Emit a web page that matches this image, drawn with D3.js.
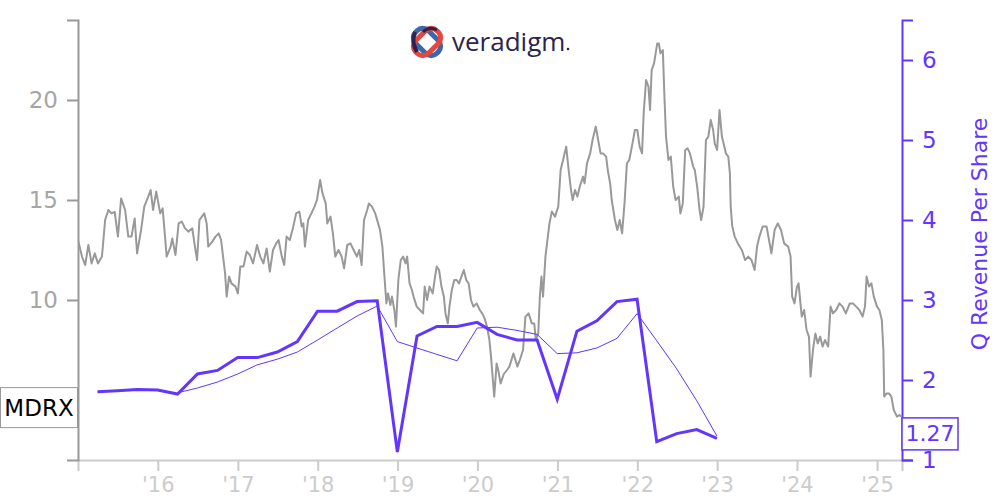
<!DOCTYPE html>
<html>
<head>
<meta charset="utf-8">
<script src="https://cdn.jsdelivr.net/npm/d3@7"></script>
<style>
  html, body { margin: 0; padding: 0; background: #fff; }
  svg { display: block; font-family: "DejaVu Sans", sans-serif; }
</style>
</head>
<body>
<svg id="chart" width="1000" height="500"></svg>
<script>
// ---------------- DATA ----------------
const ticker = "MDRX";
const rightAxisTitle = "Q Revenue Per Share";
const leftTicks = [5, 10, 15, 20];
const rightTicks = [1, 2, 3, 4, 5, 6];
const xTickYears = [2016, 2017, 2018, 2019, 2020, 2021, 2022, 2023, 2024, 2025];
const dateStart = 2015.0;
const dateEnd = 2025.313;

// Quarter-end dates for revenue per share
const quarterDates = [
  "2015-03-31","2015-06-30","2015-09-30","2015-12-31",
  "2016-03-31","2016-06-30","2016-09-30","2016-12-31",
  "2017-03-31","2017-06-30","2017-09-30","2017-12-31",
  "2018-03-31","2018-06-30","2018-09-30","2018-12-31",
  "2019-03-31","2019-06-30","2019-09-30","2019-12-31",
  "2020-03-31","2020-06-30","2020-09-30","2020-12-31",
  "2021-03-31","2021-06-30","2021-09-30","2021-12-31",
  "2022-03-31","2022-06-30","2022-09-30","2022-12-31"
];
// Quarterly revenue per share (thick line)
const revenuePerShare = [
  1.854, 1.866, 1.88, 1.875,
  1.825, 2.075, 2.12, 2.28,
  2.28, 2.35, 2.48, 2.86,
  2.86, 2.98, 2.99, 1.10,
  2.55, 2.67, 2.67, 2.72,
  2.57, 2.50, 2.50, 1.76,
  2.61, 2.74, 2.98, 3.01,
  1.23, 1.33, 1.38, 1.27
];
// Trailing average line (thin), starting 2016-03-31
const trendDates = quarterDates.slice(4);
const revenueTrend = [
  1.84, 1.90, 1.975, 2.075,
  2.19, 2.26, 2.35, 2.50,
  2.65, 2.80, 2.925, 2.48,
  2.40, 2.32, 2.24, 2.65,
  2.66, 2.62, 2.57, 2.33,
  2.34, 2.40, 2.52, 2.83,
  2.49, 2.14, 1.74, 1.30
];
const lastRevenueLabel = "1.27";

// Share price (decimal year, price)
const priceDates = [
  2015.00,2015.02,2015.05,2015.09,2015.13,2015.17,2015.21,2015.25,2015.30,2015.34,2015.38,2015.42,2015.46,2015.50,2015.54,2015.59,2015.63,2015.67,2015.71,2015.74,2015.79,2015.83,2015.88,2015.91,2015.94,2015.98,
  2016.03,2016.06,2016.09,2016.11,2016.16,2016.18,2016.22,2016.26,2016.30,2016.34,2016.38,2016.43,2016.47,2016.49,2016.52,2016.55,2016.58,2016.61,2016.63,2016.68,2016.72,2016.76,2016.79,2016.82,2016.84,2016.86,2016.89,2016.92,2016.97,2017.00,
  2017.03,2017.07,2017.11,2017.15,2017.19,2017.24,2017.28,2017.32,2017.36,2017.40,2017.44,2017.48,2017.51,2017.55,2017.58,2017.61,2017.65,2017.69,2017.73,2017.77,2017.80,2017.82,2017.84,2017.88,2017.92,2017.96,2017.99,
  2018.03,2018.06,2018.10,2018.12,2018.16,2018.19,2018.22,2018.26,2018.30,2018.33,2018.37,2018.41,2018.45,2018.49,2018.52,2018.55,2018.58,2018.62,2018.64,2018.68,2018.72,2018.75,2018.78,2018.81,2018.83,2018.86,2018.88,2018.91,2018.93,2018.96,2018.98,2019.01,
  2019.04,2019.07,2019.10,2019.12,2019.15,2019.18,2019.20,2019.24,2019.28,2019.32,2019.34,2019.37,2019.40,2019.44,2019.47,2019.49,2019.52,2019.55,2019.58,2019.60,2019.63,2019.65,2019.68,2019.71,2019.74,2019.77,2019.80,2019.83,2019.86,2019.89,2019.92,2019.95,2019.99,
  2020.03,2020.06,2020.09,2020.12,2020.15,2020.17,2020.19,2020.21,2020.24,2020.26,2020.29,2020.33,2020.37,2020.40,2020.45,2020.50,2020.53,2020.57,2020.60,2020.64,2020.68,2020.71,2020.73,2020.76,2020.78,2020.80,2020.82,2020.85,2020.87,2020.90,2020.93,2020.97,
  2021.01,2021.04,2021.07,2021.11,2021.14,2021.17,2021.19,2021.22,2021.25,2021.28,2021.32,2021.34,2021.37,2021.41,2021.44,2021.48,2021.51,2021.54,2021.57,2021.61,2021.63,2021.66,2021.68,2021.72,2021.75,2021.78,2021.81,2021.84,2021.87,2021.90,2021.94,2021.97,2022.00,
  2022.03,2022.06,2022.08,2022.11,2022.14,2022.16,2022.18,2022.21,2022.25,2022.27,2022.29,2022.32,2022.34,2022.36,2022.39,2022.42,2022.45,2022.48,2022.52,2022.54,2022.57,2022.60,2022.63,2022.66,2022.70,2022.72,2022.75,2022.78,2022.80,2022.83,2022.86,2022.89,2022.92,2022.95,2022.97,2023.00,2023.03,
  2023.06,2023.09,2023.11,2023.14,2023.16,2023.17,2023.19,2023.22,2023.26,2023.31,2023.35,2023.39,2023.43,2023.47,2023.50,2023.53,2023.57,2023.62,2023.65,2023.68,2023.72,2023.76,2023.80,2023.84,2023.89,2023.92,2023.94,2023.97,2024.00,2024.02,
  2024.06,2024.09,2024.12,2024.15,2024.17,2024.20,2024.23,2024.26,2024.29,2024.32,2024.35,2024.39,2024.42,2024.45,2024.49,2024.53,2024.57,2024.61,2024.66,2024.70,2024.74,2024.78,2024.82,2024.85,2024.87,2024.90,2024.93,2024.96,2025.00,2025.03,
  2025.06,2025.08,2025.09,2025.12,2025.15,2025.18,2025.21,2025.25,2025.28,2025.30
];
const priceValues = [
  13.0,12.67,12.17,11.75,12.75,11.83,12.33,11.83,12.17,14.0,14.5,14.33,14.4,13.17,15.08,14.5,13.17,13.17,14.08,12.33,13.5,14.67,15.17,15.5,14.5,15.42,
  14.33,14.58,13.17,12.17,12.67,13.08,12.25,13.83,13.92,13.58,13.42,13.58,12.5,12.0,14.0,14.17,14.33,13.83,12.67,12.92,13.17,13.33,13.0,12.0,11.33,10.17,11.17,10.83,10.67,10.33,
  11.67,11.67,12.42,12.25,11.83,12.75,12.17,11.83,12.58,11.42,12.5,12.83,13.0,12.17,11.75,13.17,13.0,13.6,14.33,14.42,13.67,13.83,12.67,14.0,14.33,14.67,15.0,
  16.0,15.33,14.83,13.83,14.17,13.33,12.17,12.5,12.17,11.58,12.75,12.83,12.5,12.17,12.5,11.75,14.0,14.5,14.83,14.67,14.33,13.92,13.5,12.67,11.5,9.83,10.33,9.75,10.17,9.5,8.67,11.0,
  12.0,12.17,11.83,12.17,10.83,10.5,10.17,9.67,9.5,9.33,10.67,10.0,10.67,10.33,11.17,11.67,11.5,10.67,10.17,9.33,8.83,9.67,10.5,11.0,11.0,10.83,11.17,11.5,11.0,10.83,10.0,9.67,9.83,
  9.5,9.33,9.08,8.67,8.0,7.17,6.17,5.17,6.83,6.5,5.83,6.3,6.5,6.67,7.33,6.67,7.0,7.5,9.17,9.33,8.83,8.83,8.0,8.33,10.17,11.17,10.17,12.17,12.83,13.83,14.42,14.17,
  14.67,16.5,17.0,17.67,16.5,15.5,15.0,15.5,15.17,15.67,16.17,15.83,16.83,17.33,18.0,18.67,18.0,17.33,17.33,17.17,16.5,15.83,15.0,14.0,13.5,14.0,13.33,14.83,16.83,17.0,17.83,18.5,18.5,
  17.67,17.33,19.33,21.0,20.67,19.5,21.5,21.83,22.83,22.83,22.33,22.5,20.17,18.17,17.0,17.17,15.67,15.0,15.17,14.33,14.83,17.5,17.58,17.33,16.67,16.5,15.67,14.5,14.0,14.67,18.0,18.17,19.0,18.5,17.83,17.5,19.5,
  18.17,17.67,17.33,17.17,16.33,14.67,13.67,13.17,12.83,12.5,12.0,12.17,12.0,11.5,12.67,13.17,13.67,13.67,13.0,12.33,13.5,13.83,13.5,12.83,12.67,12.17,10.17,9.83,10.67,10.83,
  9.17,9.5,8.5,8.17,6.17,7.5,8.33,7.83,8.17,7.67,8.0,7.67,9.67,9.33,9.5,9.83,9.67,9.33,9.83,9.83,9.67,9.5,9.17,9.67,11.17,10.67,10.83,10.17,9.67,9.5,
  9.0,7.5,5.17,5.33,5.33,5.17,4.5,4.17,4.25,4.17
];

// ---------------- HELPERS ----------------
function decToDate(d) {
  const y = Math.floor(d);
  const s = Date.UTC(y, 0, 1), e = Date.UTC(y + 1, 0, 1);
  return new Date(s + (d - y) * (e - s));
}
const parse = d3.utcParse("%Y-%m-%d");

const price = priceDates.map((d, i) => ({ date: decToDate(d), v: priceValues[i] }));
const rev = quarterDates.map((d, i) => ({ date: parse(d), v: revenuePerShare[i] }));
const trend = trendDates.map((d, i) => ({ date: parse(d), v: revenueTrend[i] }));

// ---------------- LAYOUT ----------------
const plot = { left: 78, right: 902, top: 20, bottom: 460 };
const purple = "#6236ff";
const gray = "#999999";

const svg = d3.select("#chart");

const x = d3.scaleUtc()
  .domain([decToDate(dateStart), decToDate(dateEnd)])
  .range([plot.left, plot.right]);
const yL = d3.scaleLinear().domain([2, 24]).range([plot.bottom, plot.top]);
const yR = d3.scaleLinear().domain([1, 6.5]).range([plot.bottom, plot.top]);

// ---------------- LOGO ----------------
const logo = svg.append("g").attr("transform", "translate(427,42)");
logo.append("rect").attr("x", -15).attr("y", -9).attr("width", 30).attr("height", 18).attr("rx", 8)
  .attr("transform", "rotate(45)").attr("fill", "none").attr("stroke", "#3d67a8").attr("stroke-width", 5);
logo.append("rect").attr("x", -15).attr("y", -9).attr("width", 30).attr("height", 18).attr("rx", 8)
  .attr("transform", "rotate(-45)").attr("fill", "none").attr("stroke", "#e4483c").attr("stroke-width", 5);
logo.append("path").attr("d", "M-12,-10 Q-16,0 -10,10").attr("fill", "none").attr("stroke", "#2b2352").attr("stroke-width", 4);
logo.append("path").attr("d", "M10,-12 Q2,-16 -4,-10").attr("fill", "none").attr("stroke", "#2b2352").attr("stroke-width", 3);
svg.append("text").attr("x", 452).attr("y", 51)
  .attr("font-family", "'Open Sans', sans-serif").attr("font-size", 26).attr("font-weight", 500)
  .attr("fill", "#2b2352").text("veradigm");
svg.append("circle").attr("cx", 568).attr("cy", 49).attr("r", 1.3).attr("fill", "#2b2352");

// ---------------- SERIES ----------------
svg.append("defs").append("clipPath").attr("id", "plotclip")
  .append("rect").attr("x", plot.left).attr("y", plot.top)
  .attr("width", plot.right - plot.left).attr("height", plot.bottom - plot.top);

const priceLine = d3.line().x(d => x(d.date)).y(d => yL(d.v));
svg.append("path").datum(price)
  .attr("clip-path", "url(#plotclip)")
  .attr("d", priceLine).attr("fill", "none").attr("stroke", gray)
  .attr("stroke-width", 2).attr("stroke-linejoin", "round");

const revLine = d3.line().x(d => x(d.date)).y(d => yR(d.v));
svg.append("path").datum(trend)
  .attr("d", revLine).attr("fill", "none").attr("stroke", purple).attr("stroke-width", 1);
svg.append("path").datum(rev)
  .attr("d", revLine).attr("fill", "none").attr("stroke", purple)
  .attr("stroke-width", 3).attr("stroke-linejoin", "miter");

// ---------------- AXES ----------------
const gX = svg.append("g").attr("transform", `translate(0,${plot.bottom})`)
  .call(d3.axisBottom(x).tickValues(xTickYears.map(y => decToDate(y)))
    .tickFormat(d3.utcFormat("'%y")).tickSize(11).tickSizeOuter(11).tickPadding(6));
gX.selectAll("path, line").attr("stroke", "#cccccc").attr("stroke-width", 2);
gX.selectAll("text").attr("fill", "#cccccc").attr("font-size", 21).attr("font-family", "DejaVu Sans");

const gL = svg.append("g").attr("transform", `translate(${plot.left},0)`)
  .call(d3.axisLeft(yL).tickValues(leftTicks).tickSize(11).tickSizeOuter(11).tickPadding(9));
gL.selectAll("path, line").attr("stroke", gray).attr("stroke-width", 2);
gL.selectAll("text").attr("fill", "#a6a6a6").attr("font-size", 23).attr("font-family", "DejaVu Sans");

const gR = svg.append("g").attr("transform", `translate(${plot.right},0)`)
  .call(d3.axisRight(yR).tickValues(rightTicks).tickFormat(d3.format("d"))
    .tickSize(11).tickSizeOuter(11).tickPadding(9));
gR.selectAll("path, line").attr("stroke", purple).attr("stroke-width", 2);
gR.selectAll("text").attr("fill", purple).attr("font-size", 23).attr("font-family", "DejaVu Sans");

svg.append("text")
  .attr("transform", `translate(981,${(plot.top + plot.bottom) / 2 - 6}) rotate(-90)`)
  .attr("text-anchor", "middle").attr("dominant-baseline", "middle")
  .attr("fill", purple).attr("font-size", 22).text(rightAxisTitle);

// ---------------- END LABELS ----------------
const lastPrice = price[price.length - 1].v;
const tyP = yL(lastPrice) - 9;
const mg = svg.append("g");
mg.append("rect").attr("x", 0.5).attr("y", tyP - 20).attr("width", plot.left - 1).attr("height", 40)
  .attr("fill", "#fff").attr("stroke", "#999").attr("stroke-width", 1);
mg.append("text").attr("x", plot.left / 2).attr("y", tyP).attr("text-anchor", "middle")
  .attr("dominant-baseline", "central").attr("font-size", 23).attr("fill", "#000").text(ticker);

const lastRev = rev[rev.length - 1].v;
const tyR = yR(lastRev) - 4.5;
const rg = svg.append("g");
rg.append("rect").attr("x", plot.right).attr("y", tyR - 16).attr("width", 56).attr("height", 32)
  .attr("fill", "#fff").attr("stroke", purple).attr("stroke-width", 1.5);
rg.append("text").attr("x", plot.right + 28).attr("y", tyR).attr("text-anchor", "middle")
  .attr("dominant-baseline", "central").attr("font-size", 22).attr("fill", purple).text(lastRevenueLabel);
</script>
</body>
</html>
